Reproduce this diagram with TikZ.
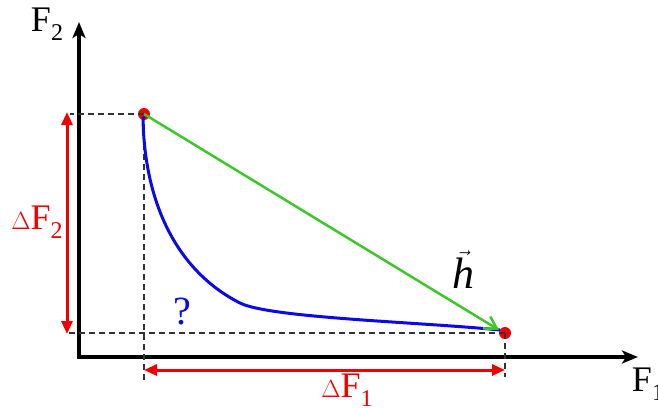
\documentclass[tikz,border=0pt]{standalone}
\usepackage{fontspec}
\setmainfont{Liberation Serif}
\usetikzlibrary{arrows.meta}
\definecolor{myred}{RGB}{240,0,0}
\definecolor{mygreen}{RGB}{60,200,40}
\definecolor{myblue}{RGB}{10,10,230}
\newcommand{\mysub}[1]{\raisebox{-0.25em}{\fontsize{24}{26}\selectfont #1}}
\begin{document}
\begin{tikzpicture}[x=1pt,y=-1pt,
  axis/.style={line width=3.5pt,-{Stealth[length=16pt,width=13pt,inset=4pt]}},
  dim/.style={myred,line width=3pt,{Triangle[length=13pt,width=11pt]}-{Triangle[length=13pt,width=11pt]}},
  guide/.style={black!80,line width=1.3pt,dash pattern=on 6pt off 4pt},
  pt/.style={circle,fill=myred,inner sep=0pt,minimum size=12pt},
  lbl/.style={inner sep=0pt,font=\fontsize{36}{40}\selectfont}]
\useasboundingbox (0,0) rectangle (658,407);
% axes
\coordinate (ytop) at (79,22);
\coordinate (xend) at (638,357);
\draw[axis] (79,359) -- (ytop);
\draw[axis] (77,357) -- (xend);
\node[lbl] (F2) at (47,24) {F\mysub{2}};
\node[lbl] (F1) at (648,384) {F\mysub{1}};
% points
\node[pt] (A) at (144,114) {};
\node[pt] (B) at (505,333) {};
% guides
\coordinate (Ay) at (70,114);
\coordinate (By) at (68,333);
\coordinate (Ax) at (144,380);
\coordinate (Bx) at (505,377);
\draw[guide] (A.center) -- (Ay);
\draw[guide] (B.center) -- (By);
\draw[guide] (A.center) -- (Ax);
\draw[guide] (B.center) -- (Bx);
% dimension arrows
\coordinate (d2a) at (67,112);
\coordinate (d2b) at (67,334);
\coordinate (d1a) at (144,370);
\coordinate (d1b) at (505,370);
\draw[dim] (d2a) -- (d2b);
\draw[dim] (d1a) -- (d1b);
\node[lbl,myred] (dF2) at (37,222) {$\Delta$F\mysub{2}};
\node[lbl,myred] (dF1) at (347,390) {$\Delta$F\mysub{1}};
% blue curve
\draw[myblue,line width=3pt] (143,117) .. controls (144,200) and (175,270) .. (240,303)
  .. controls (270,318) and (420,322) .. (500,330);
\node[lbl,myblue,font=\fontsize{40}{44}\selectfont] (q) at (182,312) {?};
% green vector
\draw[mygreen,line width=2.5pt,-{Straight Barb[length=12pt,width=14pt]}] (A.center) -- (499,330);
\node[lbl,font=\fontsize{44}{48}\selectfont] (h) at (463,270) {$\vec{\textit{h}}$};
\end{tikzpicture}
\end{document}
